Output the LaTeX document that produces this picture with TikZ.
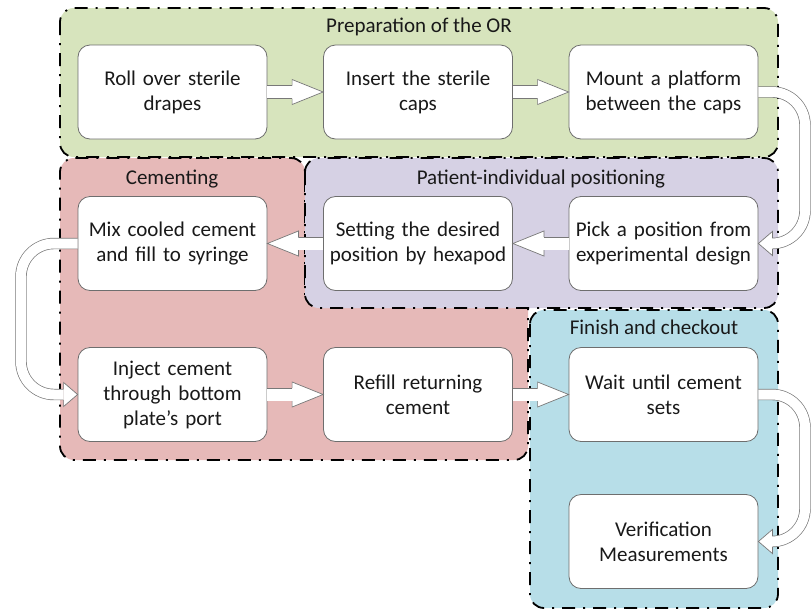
\documentclass[tikz,border=0pt]{standalone}
\usepackage{fontspec}
\setmainfont{Carlito}
\definecolor{greenc}{RGB}{215,228,189}
\definecolor{redc}{RGB}{230,185,184}
\definecolor{purplec}{RGB}{214,209,228}
\definecolor{bluec}{RGB}{183,222,232}
\definecolor{boxgray}{RGB}{110,110,110}
\definecolor{arrgray}{RGB}{120,120,120}
\definecolor{txt}{RGB}{25,25,25}
\newcommand\arrR[2]{%
  \draw[shaft] (#1.east) -- ([xshift=-31pt]#2.west);
  \path[ahead] ([shift={(-31pt,6.5pt)}]#2.west) -- ([shift={(-31pt,12.5pt)}]#2.west) -- (#2.west) -- ([shift={(-31pt,-12.5pt)}]#2.west) -- ([shift={(-31pt,-6.5pt)}]#2.west);}
\newcommand\arrL[2]{%
  \draw[shaft] (#1.west) -- ([xshift=31pt]#2.east);
  \path[ahead] ([shift={(31pt,6.5pt)}]#2.east) -- ([shift={(31pt,12.5pt)}]#2.east) -- (#2.east) -- ([shift={(31pt,-12.5pt)}]#2.east) -- ([shift={(31pt,-6.5pt)}]#2.east);}
\begin{document}
\begin{tikzpicture}[x=1pt,y=-1pt,
  stepbox/.style={draw=boxgray, line width=0.8pt, fill=white, rounded corners=12pt,
    minimum width=189pt, minimum height=94pt, text width=185pt, align=center,
    inner sep=0pt, font=\fontsize{21}{25}\selectfont, text=txt},
  grp/.style={draw=black, line width=1.8pt, dash pattern=on 13pt off 8pt on 2pt off 8pt, rounded corners=14pt},
  gtitle/.style={font=\fontsize{21}{25}\selectfont, text=txt, inner sep=0pt, anchor=base},
  shaft/.style={draw=arrgray, line width=0.7pt, double=white, double distance=12pt},
  cshaft/.style={draw=arrgray, line width=0.7pt, double=white, double distance=10pt, rounded corners=33pt},
  ahead/.style={draw=arrgray, line width=0.7pt, fill=white, line join=miter},
]
\useasboundingbox (0,0) rectangle (812,611);
% containers
\draw[grp, fill=greenc] (60,8) rectangle (778,157);
\draw[grp, fill=redc] [rounded corners=14pt] (182,158) -- (305,158) -- (305,230)
   [sharp corners] -- (305,300) -- (528,300) -- (528,380)
   [rounded corners=14pt] -- (528,460) -- (60,460) -- (60,158) -- cycle;
\draw[grp, fill=purplec] (305,158) rectangle (778,308);
\draw[grp, fill=bluec] (530,310) rectangle (778,608);
% titles
\node[gtitle] (tprep) at (419,32) {Preparation of the OR};
\node[gtitle] (tcem) at (172,184) {Cementing};
\node[gtitle] (tpat) at (541,184) {Patient-individual positioning};
\node[gtitle] (tfin) at (654,334) {Finish and checkout};
% steps
\node[stepbox] (roll) at (172.5,92) {Roll over sterile\\drapes};
\node[stepbox] (insert) at (418,92) {Insert the sterile\\caps};
\node[stepbox] (mount) at (663.5,92) {Mount a platform\\between the caps};
\node[stepbox] (mix) at (172.5,243.5) {Mix cooled cement\\and fill to syringe};
\node[stepbox] (setting) at (418,243.5) {Setting the desired\\position by hexapod};
\node[stepbox] (pick) at (663.5,243.5) {Pick a position from\\experimental design};
\node[stepbox] (inject) at (172.5,394.5) {Inject cement\\through bottom\\plate’s port};
\node[stepbox] (refill) at (418,394.5) {Refill returning\\cement};
\node[stepbox] (wait) at (663.5,394.5) {Wait until cement\\sets};
\node[stepbox] (verif) at (663.5,541.5) {Verification\\Measurements};
% straight arrows
\arrR{roll}{insert}
\arrR{insert}{mount}
\arrL{pick}{setting}
\arrL{setting}{mix}
\arrR{inject}{refill}
\arrR{refill}{wait}
% curved arrows
\coordinate (xr) at (805,0);
\coordinate (xl) at (21,0);
\draw[cshaft] (mount.east) -- (mount.east -| xr) -- (xr |- pick.east) -- ([xshift=14pt]pick.east);
\path[ahead] ([shift={(14pt,5.5pt)}]pick.east) -- ([shift={(14pt,12pt)}]pick.east) -- (pick.east) -- ([shift={(14pt,-12pt)}]pick.east) -- ([shift={(14pt,-5.5pt)}]pick.east);
\draw[cshaft] (wait.east) -- (wait.east -| xr) -- (xr |- verif.east) -- ([xshift=14pt]verif.east);
\path[ahead] ([shift={(14pt,5.5pt)}]verif.east) -- ([shift={(14pt,12pt)}]verif.east) -- (verif.east) -- ([shift={(14pt,-12pt)}]verif.east) -- ([shift={(14pt,-5.5pt)}]verif.east);
\draw[cshaft] (mix.west) -- (mix.west -| xl) -- (xl |- inject.west) -- ([xshift=-14pt]inject.west);
\path[ahead] ([shift={(-14pt,5.5pt)}]inject.west) -- ([shift={(-14pt,12pt)}]inject.west) -- (inject.west) -- ([shift={(-14pt,-12pt)}]inject.west) -- ([shift={(-14pt,-5.5pt)}]inject.west);
\end{tikzpicture}
\end{document}
